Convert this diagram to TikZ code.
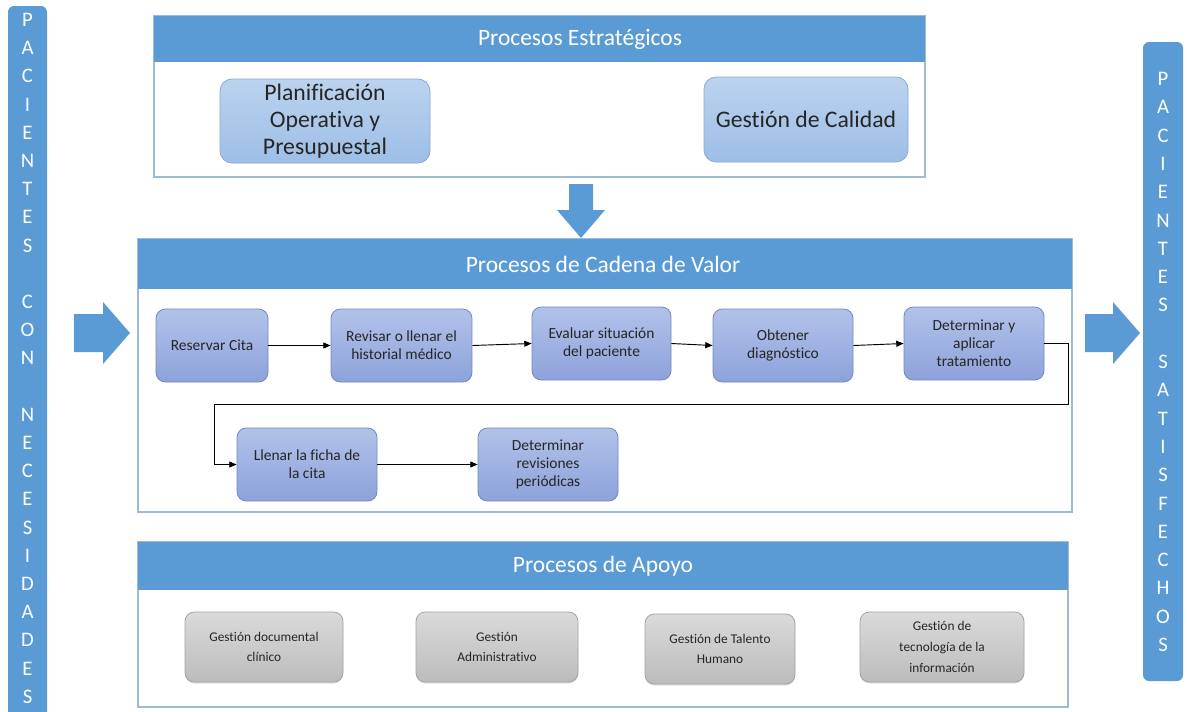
\documentclass[tikz,border=0pt]{standalone}
\usepackage{fontspec}
\setmainfont{Carlito}[Ligatures=NoCommon]
\usetikzlibrary{arrows.meta,shadows}
\newcommand{\upx}{0.75pt}
\definecolor{hdr}{HTML}{5B9BD5}
\definecolor{secline}{HTML}{9DBBD6}
\definecolor{ptop}{HTML}{B1C2E9}
\definecolor{pbot}{HTML}{8DA2DB}
\definecolor{pline}{HTML}{7487C0}
\definecolor{stop}{HTML}{BBD3EE}
\definecolor{sbot}{HTML}{9DBEE6}
\definecolor{sline}{HTML}{88A9D6}
\definecolor{gtop}{HTML}{DADADA}
\definecolor{gbot}{HTML}{BCBCBC}
\definecolor{gline}{HTML}{A3A3A3}
\definecolor{txt}{HTML}{262626}
\begin{document}
\begin{tikzpicture}[x=0.75pt,y=-0.75pt,
  section/.style={draw=secline,line width=0.8pt,fill=white},
  header/.style={fill=hdr},
  htitle/.style={text=white,font=\fontsize{17.6}{20}\selectfont,inner sep=0pt},
  bar/.style={fill=hdr,rounded corners=4.5pt},
  barletter/.style={text=white,font=\fontsize{15.5}{18}\selectfont,inner sep=0pt},
  blockarrow/.style={fill=hdr},
  proc/.style={draw=pline,line width=0.6pt,rounded corners=7pt,top color=ptop,bottom color=pbot,
     text=txt,align=center,font=\fontsize{11.6}{13.4}\selectfont,inner sep=1pt},
  strat/.style={draw=sline,line width=0.6pt,rounded corners=9pt,top color=stop,bottom color=sbot,
     text=txt,align=center,font=\fontsize{17.8}{20.4}\selectfont,inner sep=1pt},
  supp/.style={draw=gline,line width=0.6pt,rounded corners=7pt,top color=gtop,bottom color=gbot,
     text=txt,align=center,font=\fontsize{10}{15.5}\selectfont,inner sep=2pt,
     drop shadow={shadow xshift=0pt,shadow yshift=-1.2pt,opacity=0.25}},
  conn/.style={draw=black,line width=0.7pt,-{Triangle[length=5.5pt,width=4.5pt]}}
]
\useasboundingbox (0,0) rectangle (1187,711);
\fill[white] (0,0) rectangle (1187,711);

% side bars
\begin{scope}
\clip (0,0) rectangle (1187,711);
\fill[bar] (8,6) rectangle (47,740);
\end{scope}
\fill[bar] (1143,42) rectangle (1183,681);
\foreach \c [count=\i from 0] in {P,A,C,I,E,N,T,E,S,{},C,O,N,{},N,E,C,E,S,I,D,A,D,E,S}
  \node[barletter,anchor=base] (L\i) at (27.5,{26.5+\i*28.2}) {\c};
\foreach \c [count=\i from 0] in {P,A,C,I,E,N,T,E,S,{},S,A,T,I,S,F,E,C,H,O,S}
  \node[barletter,anchor=base] (R\i) at (1163,{85.5+\i*28.3}) {\c};

% sections
\draw[section] (154,16) rectangle (925,177);
\fill[header] (154,16) rectangle (925,62);
\node[htitle] (t1) at (580,39) {Procesos Estratégicos};

\draw[section] (138,239) rectangle (1072,512);
\fill[header] (138,239) rectangle (1072,289);
\node[htitle] (t2) at (603,264) {Procesos de Cadena de Valor};

\draw[section] (138,542) rectangle (1068,707);
\fill[header] (138,542) rectangle (1068,590);
\node[htitle] (t3) at (603,566) {Procesos de Apoyo};

% block arrows
\fill[blockarrow] (569,184) -- (593,184) -- (593,210) -- (605,210) -- (581,238) -- (557,210) -- (569,210) -- cycle;
\fill[blockarrow] (74,314) -- (103,314) -- (103,302) -- (130,333) -- (103,364) -- (103,352) -- (74,352) -- cycle;
\fill[blockarrow] (1085,314) -- (1113,314) -- (1113,302) -- (1140,333) -- (1113,364) -- (1113,352) -- (1085,352) -- cycle;

% strategic
\node[strat,minimum width=210*\upx,minimum height=84*\upx] (plan) at (325,121) {Planificación\\Operativa y\\Presupuestal};
\node[strat,minimum width=204*\upx,minimum height=85*\upx] (cal) at (806,119.5) {Gestión de Calidad};

% value chain
\node[proc,minimum width=112*\upx,minimum height=73*\upx] (res) at (212,345.5) {Reservar Cita};
\node[proc,minimum width=141*\upx,minimum height=73*\upx] (rev) at (401.5,345.5) {Revisar o llenar el\\historial médico};
\node[proc,minimum width=139*\upx,minimum height=73*\upx] (eva) at (601.5,343.5) {Evaluar situación\\del paciente};
\node[proc,minimum width=140*\upx,minimum height=73*\upx] (obt) at (783,345.5) {Obtener\\diagnóstico};
\node[proc,minimum width=140*\upx,minimum height=73*\upx] (det) at (974,343.5) {Determinar y\\aplicar\\tratamiento};
\node[proc,minimum width=140*\upx,minimum height=73*\upx] (lle) at (307,464.5) {Llenar la ficha de\\la cita};
\node[proc,minimum width=140*\upx,minimum height=73*\upx] (drv) at (548,464.5) {Determinar\\revisiones\\periódicas};

\coordinate (r1) at (1068,404);
\coordinate (r2) at (214,404);
\draw[conn] (res.east) -- (rev.west);
\draw[conn] (rev.east) -- (eva.west);
\draw[conn] (eva.east) -- (obt.west);
\draw[conn] (obt.east) -- (det.west);
\draw[conn] (det.east) -| (r1) -- (r2) |- (lle.west);
\draw[conn] (lle.east) -- (drv.west);

% support
\node[supp,minimum width=158*\upx,minimum height=70*\upx] (g1) at (264,647) {Gestión documental\\clínico};
\node[supp,minimum width=162*\upx,minimum height=70*\upx] (g2) at (497,647) {Gestión\\Administrativo};
\node[supp,minimum width=150*\upx,minimum height=70*\upx] (g3) at (720,649) {Gestión de Talento\\Humano};
\node[supp,minimum width=164*\upx,minimum height=70*\upx] (g4) at (942,647) {Gestión de\\tecnología de la\\información};
\end{tikzpicture}
\end{document}
